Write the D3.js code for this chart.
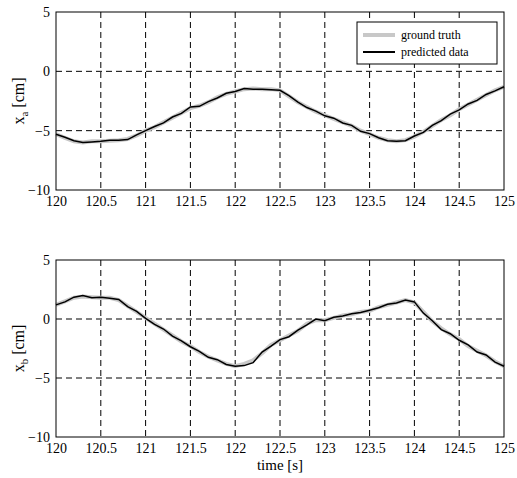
<!DOCTYPE html>
<html>
<head>
<meta charset="UTF-8" />
<script src="https://d3js.org/d3.v7.min.js"></script>
<style>
  body { margin: 0; background: #fff; }
  svg, svg text { font-family: 'Liberation Serif', 'DejaVu Serif', 'Times New Roman', serif; }
  .tick text { font-size: 14px; fill: #000; }
  .grid line { stroke: #000; stroke-dasharray: 6,4; }
</style>
</head>
<body>
<svg id="chart" width="517" height="478"></svg>
<script>
const times = [120,120.1,120.2,120.3,120.4,120.5,120.6,120.7,120.8,120.9,121,121.1,121.2,121.3,121.4,121.5,121.6,121.7,121.8,121.9,122,122.1,122.2,122.3,122.4,122.5,122.6,122.7,122.8,122.9,123,123.1,123.2,123.3,123.4,123.5,123.6,123.7,123.8,123.9,124,124.1,124.2,124.3,124.4,124.5,124.6,124.7,124.8,124.9,125];
const xaTruth = [-5.3,-5.6,-5.9,-6.0,-5.9,-5.9,-5.85,-5.8,-5.7,-5.4,-5.0,-4.7,-4.3,-3.9,-3.5,-3.1,-2.9,-2.6,-2.2,-1.9,-1.7,-1.5,-1.45,-1.5,-1.5,-1.6,-2.1,-2.6,-3.0,-3.4,-3.7,-4.0,-4.3,-4.6,-5.0,-5.3,-5.6,-5.8,-5.9,-5.8,-5.5,-5.1,-4.6,-4.1,-3.7,-3.2,-2.8,-2.4,-2.0,-1.6,-1.3];
const xaPred  = [-5.3,-5.55,-5.85,-6.0,-5.95,-5.9,-5.8,-5.8,-5.75,-5.35,-5.0,-4.65,-4.35,-3.85,-3.55,-3.0,-2.95,-2.55,-2.25,-1.85,-1.7,-1.45,-1.5,-1.5,-1.55,-1.6,-2.05,-2.6,-3.05,-3.35,-3.75,-3.95,-4.35,-4.55,-5.05,-5.25,-5.6,-5.85,-5.9,-5.85,-5.45,-5.15,-4.55,-4.15,-3.6,-3.25,-2.75,-2.45,-1.95,-1.65,-1.3];
const xbTruth = [1.2,1.5,1.8,1.9,1.85,1.8,1.8,1.6,1.1,0.6,0.1,-0.4,-0.9,-1.4,-1.9,-2.3,-2.8,-3.2,-3.5,-3.8,-4.0,-3.8,-3.5,-2.9,-2.2,-1.8,-1.4,-1.0,-0.4,-0.1,-0.1,0.1,0.3,0.4,0.6,0.7,1.0,1.2,1.4,1.6,1.4,0.6,-0.2,-0.8,-1.3,-1.7,-2.3,-2.7,-3.1,-3.6,-4.0];
const xbPred  = [1.2,1.45,1.85,2.0,1.8,1.85,1.75,1.65,1.05,0.65,0.05,-0.45,-0.85,-1.45,-1.85,-2.35,-2.75,-3.25,-3.45,-3.85,-4.0,-3.95,-3.7,-2.8,-2.3,-1.75,-1.5,-0.95,-0.5,0.0,-0.15,0.15,0.25,0.45,0.55,0.75,0.95,1.25,1.35,1.6,1.45,0.5,-0.15,-0.9,-1.25,-1.8,-2.2,-2.8,-3.05,-3.65,-4.0];
const xTicks = [120,120.5,121,121.5,122,122.5,123,123.5,124,124.5,125];
const yTicks = [5,0,-5,-10];

const svg = d3.select("#chart");
const x = d3.scaleLinear().domain([120,125]).range([56,504]);

function panel(top, bottom, truth, pred, sub, legend) {
  const y = d3.scaleLinear().domain([-10,5]).range([bottom, top]);
  const g = svg.append("g");
  g.append("g").attr("class","grid").selectAll("line").data(xTicks.slice(1,-1)).join("line")
    .attr("x1", d => x(d)).attr("x2", d => x(d)).attr("y1", top).attr("y2", bottom);
  g.append("g").attr("class","grid").selectAll("line").data(yTicks.slice(1,-1)).join("line")
    .attr("x1", 56).attr("x2", 504).attr("y1", d => y(d)).attr("y2", d => y(d));
  const line = d3.line().x((d,i) => x(times[i])).y(d => y(d));
  g.append("path").datum(truth).attr("d", line).attr("fill","none").attr("stroke","#c8c8c8").attr("stroke-width",4);
  g.append("path").datum(pred).attr("d", line).attr("fill","none").attr("stroke","#000").attr("stroke-width",1.5);
  g.append("rect").attr("x",56).attr("y",top).attr("width",448).attr("height",bottom-top)
    .attr("fill","none").attr("stroke","#000");
  g.append("g").attr("transform",`translate(0,${bottom})`)
    .call(d3.axisBottom(x).tickValues(xTicks).tickFormat(d3.format("")).tickSize(0).tickPadding(6))
    .attr("font-family", null)
    .call(a => a.select(".domain").remove());
  g.append("g").attr("transform","translate(56,0)")
    .call(d3.axisLeft(y).tickValues(yTicks).tickSize(0).tickPadding(6))
    .attr("font-family", null)
    .call(a => a.select(".domain").remove());
  const lab = g.append("text").attr("transform",`translate(24,${(top+bottom)/2}) rotate(-90)`)
    .attr("text-anchor","middle").attr("font-size",16);
  lab.append("tspan").text("x");
  lab.append("tspan").attr("font-size",11).attr("dy",4).text(sub);
  lab.append("tspan").attr("dy",-4).text(" [cm]");
  if (legend) {
    const lg = g.append("g").attr("transform","translate(357,22)");
    lg.append("rect").attr("width",140).attr("height",42).attr("fill","#fff").attr("stroke","#000");
    const items = [["ground truth","#c8c8c8",4],["predicted data","#000",2]];
    items.forEach((it,i) => {
      lg.append("line").attr("x1",6).attr("x2",38).attr("y1",13+i*17).attr("y2",13+i*17)
        .attr("stroke",it[1]).attr("stroke-width",it[2]);
      lg.append("text").attr("x",44).attr("y",17+i*17).attr("font-size",12).text(it[0]);
    });
  }
}
panel(12, 190, xaTruth, xaPred, "a", true);
panel(260, 437, xbTruth, xbPred, "b", false);
svg.append("text").attr("x",280).attr("y",470).attr("text-anchor","middle").attr("font-size",15).text("time [s]");
</script>
</body>
</html>
